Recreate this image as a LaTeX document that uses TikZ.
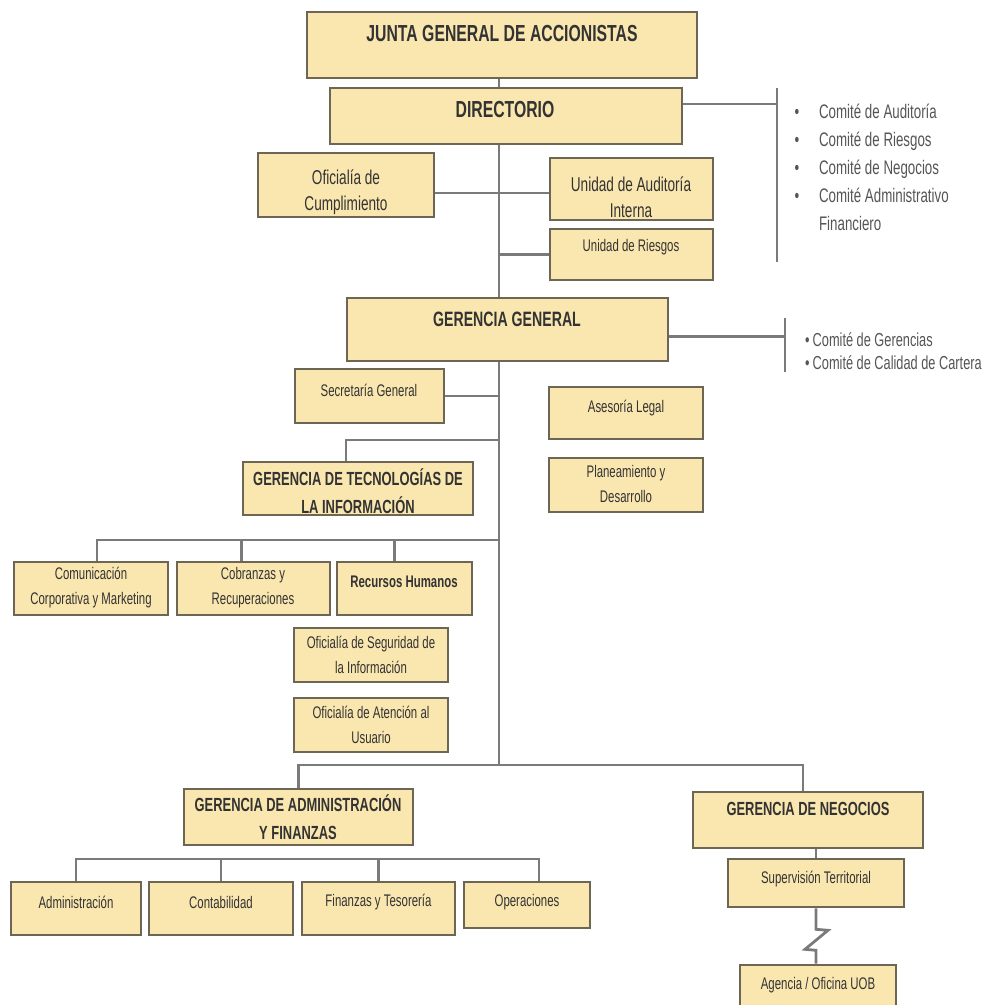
\documentclass[tikz,border=0pt]{standalone}
\usepackage{fontspec}
\setmainfont[FakeStretch=0.68]{Liberation Sans}
\usetikzlibrary{fit,backgrounds}

\definecolor{boxfill}{HTML}{FAE7B0}
\definecolor{boxline}{HTML}{6E6654}
\definecolor{linkgray}{HTML}{7A7A7A}
\definecolor{txtdark}{HTML}{333333}
\definecolor{txtgray}{HTML}{555555}

\tikzset{
  orgbox/.style={draw=boxline, fill=boxfill, line width=1.3pt, inner sep=0pt},
  link/.style={draw=linkgray, line width=1.4pt},
  bighead/.style={font=\bfseries\fontsize{11.6}{13}\selectfont, text=txtdark},
  midhead/.style={font=\bfseries\fontsize{9.5}{14}\selectfont, text=txtdark, align=center},
  unitsmall/.style={font=\fontsize{8.4}{12.5}\selectfont, text=txtdark, align=center},
  unitlarge/.style={font=\fontsize{10}{12.8}\selectfont, text=txtdark, align=center},
  committee/.style={font=\fontsize{9.8}{12}\selectfont, text=txtgray},
}

\begin{document}
\begin{tikzpicture}[x=0.5pt,y=-0.5pt]
  \useasboundingbox (0,0) rectangle (987,1005);
  \coordinate (trunk) at (499,765);

  % board level
  \node[orgbox, fit={(307,12) (697,78)}] (junta) {};
  \node[bighead] (junta-t) at (502,34) {JUNTA GENERAL DE ACCIONISTAS};
  \node[orgbox, fit={(330,88) (682,144)}] (dir) {};
  \node[bighead] (dir-t) at (505,110) {DIRECTORIO};
  \node[orgbox, fit={(258,153) (434,217)}] (cumpl) {};
  \node[unitlarge] (cumpl-t) at (346,192) {Oficialía de\\Cumplimiento};
  \node[orgbox, fit={(550,158) (713,220)}] (audit) {};
  \node[unitlarge] (audit-t) at (631,197) {Unidad de Auditoría\\Interna};
  \node[orgbox, fit={(550,229) (713,280)}] (riesg) {};
  \node[unitsmall] (riesg-t) at (631,247) {Unidad de Riesgos};

  % committees of the board
  \foreach [count=\i] \lab in {Comité de Auditoría,Comité de Riesgos,Comité de Negocios,Comité Administrativo} {
    \node[committee, anchor=base] (dirbul-\i) at (797,91+28*\i) {\textbullet};
    \node[committee, anchor=base west] (dircom-\i) at (812,91+28*\i) {\lab};
  }
  \node[committee, anchor=base west] (dircom-5) at (812,231) {Financiero};
  \coordinate (dirbar-top) at (777,88);
  \coordinate (dirbar-bot) at (777,262);

  % general management
  \node[orgbox, fit={(347,298) (668,361)}] (gg) {};
  \node[midhead, font=\bfseries\fontsize{10.4}{12}\selectfont] (gg-t) at (507,319) {GERENCIA GENERAL};
  \node[committee, anchor=west, font=\fontsize{9.4}{11}\selectfont] (ggcom-1) at (798,340) {\textbullet\,Comité de Gerencias};
  \node[committee, anchor=west, font=\fontsize{9.4}{11}\selectfont] (ggcom-2) at (798,363) {\textbullet\,Comité de Calidad de Cartera};
  \coordinate (ggbar-top) at (785,318);
  \coordinate (ggbar-bot) at (785,372);

  \node[orgbox, fit={(295,369) (444,423)}] (secre) {};
  \node[unitsmall] (secre-t) at (369,390) {Secretaría General};
  \node[orgbox, fit={(549,387) (703,439)}] (legal) {};
  \node[unitsmall] (legal-t) at (626,408) {Asesoría Legal};
  \node[orgbox, fit={(549,458) (703,512)}] (plan) {};
  \node[unitsmall] (plan-t) at (626,484) {Planeamiento y\\Desarrollo};

  % information technology
  \node[orgbox, fit={(243,462) (473,515)}] (gti) {};
  \node[midhead] (gti-t) at (358,491) {GERENCIA DE TECNOLOGÍAS DE\\LA INFORMACIÓN};
  \node[orgbox, fit={(14,562) (168,615)}] (com) {};
  \node[unitsmall] (com-t) at (91,588) {Comunicación\\Corporativa y Marketing};
  \node[orgbox, fit={(177,562) (330,615)}] (cob) {};
  \node[unitsmall] (cob-t) at (253,588) {Cobranzas y\\Recuperaciones};
  \node[orgbox, fit={(337,562) (472,615)}] (rrhh) {};
  \node[unitsmall, font=\bfseries\fontsize{8.4}{11}\selectfont] (rrhh-t) at (404,582) {Recursos Humanos};
  \node[orgbox, fit={(294,628) (448,682)}] (segur) {};
  \node[unitsmall] (segur-t) at (371,655) {Oficialía de Seguridad de\\la Información};
  \node[orgbox, fit={(294,698) (448,752)}] (atenc) {};
  \node[unitsmall] (atenc-t) at (371,725) {Oficialía de Atención al\\Usuario};
  \coordinate (gtijoin) at (499,440);
  \coordinate (tibar) at (499,540);

  % administration and business
  \node[orgbox, fit={(184,789) (413,845)}] (gaf) {};
  \node[midhead] (gaf-t) at (298,817) {GERENCIA DE ADMINISTRACIÓN\\Y FINANZAS};
  \foreach \nm/\xa/\xb/\yb/\lab in {adm/11/141/935/Administración,cont/149/293/935/Contabilidad,fint/302/455/935/Finanzas y Tesorería,oper/464/590/928/Operaciones} {
    \node[orgbox, fit={(\xa,882) (\xb,\yb)}] (\nm) {};
    \node[unitsmall] (\nm-t) at ({(\xa+\xb)/2},902) {\lab};
  }
  \coordinate (gafbar) at (300,859);

  \node[orgbox, fit={(693,792) (923,848)}] (neg) {};
  \node[midhead] (neg-t) at (808,809) {GERENCIA DE NEGOCIOS};
  \node[orgbox, fit={(728,859) (904,907)}] (sup) {};
  \node[unitsmall] (sup-t) at (816,879) {Supervisión Territorial};
  \node[orgbox, fit={(740,965) (896,1025)}] (agen) {};
  \node[unitsmall] (agen-t) at (818,985) {Agencia / Oficina UOB};

  % connectors
  \begin{scope}[on background layer]
    \draw[link] (junta.south -| trunk) -- (trunk);
    \draw[link] (dirbar-top) -- (dirbar-bot);
    \draw[link] ([yshift=6pt]dir.east) -- ([yshift=6pt]dir.east -| dirbar-top);
    \draw[link] ([yshift=-4pt]cumpl.east) -- ([yshift=-4pt]cumpl.east -| trunk);
    \draw[link] ([yshift=-2pt]audit.west) -- ([yshift=-2pt]audit.west -| trunk);
    \draw[link] (riesg.west) -- (riesg.west -| trunk);
    \draw[link] (ggbar-top) -- (ggbar-bot);
    \draw[link] ([yshift=-3.5pt]gg.east) -- ([yshift=-3.5pt]gg.east -| ggbar-top);
    \draw[link] (secre.east) -- (secre.east -| trunk);
    \draw[link] ([xshift=-6pt]gti.north) |- (gtijoin);
    \draw[link] ([xshift=3pt]com.north) |- (tibar);
    \draw[link] ([xshift=-6pt]cob.north) -- ([xshift=-6pt]cob.north |- tibar);
    \draw[link] ([xshift=-5pt]rrhh.north) -- ([xshift=-5pt]rrhh.north |- tibar);
    \draw[link] (gaf.north) |- (trunk) -| ([xshift=-2.5pt]neg.north);
    \draw[link] (adm.north) |- (gafbar) -| ([xshift=6pt]oper.north);
    \foreach \nm in {cont,fint} {
      \draw[link] (\nm.north) -- (\nm.north |- gafbar);
    }
    \draw[link] (sup.north) -- (sup.north |- neg.south);
    \draw[link] (sup.south) -- ++(0,21) -- ++(12,1) -- ++(-23,19) -- ++(11,1) -- (sup.south |- agen.north);
  \end{scope}
\end{tikzpicture}
\end{document}
